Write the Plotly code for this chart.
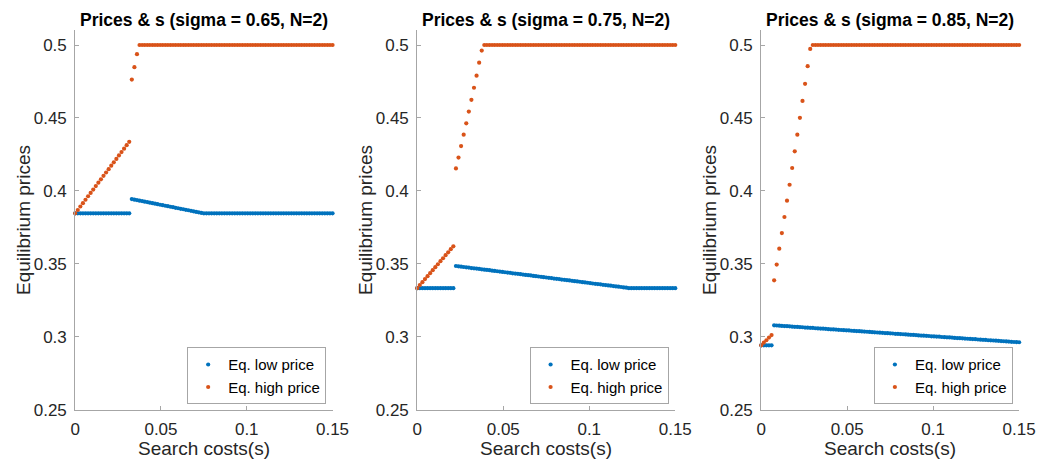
import numpy as np
import plotly.graph_objects as go

# Search-cost grid (101 points, 0 .. 0.15)
s_grid = [round(v, 4) for v in np.linspace(0.0, 0.15, 101)]

titles = ["Prices & s (sigma = 0.65, N=2)",
          "Prices & s (sigma = 0.75, N=2)",
          "Prices & s (sigma = 0.85, N=2)"]
x_ticks = [0, 0.05, 0.1, 0.15]
x_ticklabels = ["0", "0.05", "0.1", "0.15"]
y_ticks = [0.25, 0.3, 0.35, 0.4, 0.45, 0.5]
y_ticklabels = ["0.25", "0.3", "0.35", "0.4", "0.45", "0.5"]

# ---------------- sigma = 0.65 ----------------
low_065 = [0.3846] * 22 + [
    0.3944, 0.3940, 0.3937, 0.3933, 0.3930, 0.3926, 0.3923, 0.3919, 0.3916, 0.3912,
    0.3909, 0.3905, 0.3902, 0.3898, 0.3895, 0.3891, 0.3888, 0.3884, 0.3881, 0.3877,
    0.3874, 0.3870, 0.3867, 0.3863, 0.3860, 0.3856, 0.3853, 0.3849, 0.3846,
] + [0.3846] * 50
high_065 = [
    0.3846, 0.3869, 0.3893, 0.3916, 0.3939, 0.3963, 0.3986, 0.4009, 0.4033, 0.4056,
    0.4079, 0.4103, 0.4126, 0.4149, 0.4173, 0.4196, 0.4219, 0.4243, 0.4266, 0.4289,
    0.4313, 0.4336,
    0.4763, 0.4848, 0.4937,
] + [0.5] * 76

# ---------------- sigma = 0.75 ----------------
low_075 = [0.3333] * 15 + [
    0.3485, 0.3483, 0.3480, 0.3478, 0.3476, 0.3474, 0.3471, 0.3469, 0.3467, 0.3465,
    0.3462, 0.3460, 0.3458, 0.3456, 0.3453, 0.3451, 0.3449, 0.3447, 0.3444, 0.3442,
    0.3440, 0.3438, 0.3435, 0.3433, 0.3431, 0.3429, 0.3426, 0.3424, 0.3422, 0.3420,
    0.3417, 0.3415, 0.3413, 0.3411, 0.3408, 0.3406, 0.3404, 0.3402, 0.3399, 0.3397,
    0.3395, 0.3392, 0.3390, 0.3388, 0.3386, 0.3383, 0.3381, 0.3379, 0.3377, 0.3374,
    0.3372, 0.3370, 0.3368, 0.3365, 0.3363, 0.3361, 0.3359, 0.3356, 0.3354, 0.3352,
    0.3350, 0.3347, 0.3345, 0.3343, 0.3341, 0.3338, 0.3336, 0.3333,
] + [0.3333] * 18
high_075 = [
    0.3333, 0.3354, 0.3374, 0.3395, 0.3415, 0.3436, 0.3456, 0.3477, 0.3497, 0.3518,
    0.3538, 0.3559, 0.3579, 0.3600, 0.3620,
    0.4154, 0.4228, 0.4307, 0.4385, 0.4463, 0.4544, 0.4624, 0.4707, 0.4790, 0.4879,
    0.4962,
] + [0.5] * 75

# ---------------- sigma = 0.85 ----------------
low_085 = [0.2941] * 5 + [
    0.3078, 0.3077, 0.3076, 0.3074, 0.3073, 0.3072, 0.3071, 0.3069, 0.3068, 0.3067,
    0.3066, 0.3065, 0.3063, 0.3062, 0.3061, 0.3060, 0.3058, 0.3057, 0.3056, 0.3055,
    0.3054, 0.3052, 0.3051, 0.3050, 0.3049, 0.3047, 0.3046, 0.3045, 0.3044, 0.3043,
    0.3041, 0.3040, 0.3039, 0.3038, 0.3036, 0.3035, 0.3034, 0.3033, 0.3031, 0.3030,
    0.3029, 0.3028, 0.3027, 0.3025, 0.3024, 0.3023, 0.3022, 0.3020, 0.3019, 0.3018,
    0.3017, 0.3016, 0.3014, 0.3013, 0.3012, 0.3011, 0.3009, 0.3008, 0.3007, 0.3006,
    0.3005, 0.3003, 0.3002, 0.3001, 0.3000, 0.2998, 0.2997, 0.2996, 0.2995, 0.2994,
    0.2992, 0.2991, 0.2990, 0.2989, 0.2987, 0.2986, 0.2985, 0.2984, 0.2983, 0.2981,
    0.2980, 0.2979, 0.2978, 0.2976, 0.2975, 0.2974, 0.2973, 0.2972, 0.2970, 0.2969,
    0.2968, 0.2967, 0.2965, 0.2964, 0.2963, 0.2962,
]
high_085 = [
    0.2941, 0.2959, 0.2976, 0.2994, 0.3011,
    0.3387, 0.3495, 0.3604, 0.3711, 0.3821, 0.3933, 0.4042, 0.4157, 0.4271, 0.4385,
    0.4501, 0.4617, 0.4734, 0.4855, 0.4973,
] + [0.5] * 81

low_series = [low_065, low_075, low_085]
high_series = [high_065, high_075, high_085]

BLUE = "#0072BD"
ORANGE = "#D95319"
FONT = "Liberation Sans, Arial, Helvetica, sans-serif"
W, H = 1057, 473

x_px = [(71.7, 334.5), (421.0, 684.5), (772.3, 1035.7)]
y_top_px, y_bot_px = 31.1, 418.5
y_dom = [1 - y_bot_px / H, 1 - y_top_px / H]
legend_right_px = [328.0, 677.7, 1029.3]
legend_bottom_px = 413.0

fig = go.Figure()
layout = dict(
    width=W, height=H,
    margin=dict(l=0, r=0, t=0, b=0),
    paper_bgcolor="white", plot_bgcolor="white",
    font=dict(family=FONT, color="#262626"),
    showlegend=True,
    annotations=[],
)

for i in range(3):
    ax = "" if i == 0 else str(i + 1)
    leg = "legend" if i == 0 else f"legend{i + 1}"
    fig.add_trace(go.Scatter(
        x=s_grid, y=low_series[i], mode="markers", name="Eq. low price",
        marker=dict(color=BLUE, size=4.2), cliponaxis=False,
        xaxis=f"x{ax}", yaxis=f"y{ax}", legend=leg))
    fig.add_trace(go.Scatter(
        x=s_grid, y=high_series[i], mode="markers", name="Eq. high price",
        marker=dict(color=ORANGE, size=4.2), cliponaxis=False,
        xaxis=f"x{ax}", yaxis=f"y{ax}", legend=leg))

    x0, x1 = x_px[i]
    dom = [x0 / W, x1 / W]
    layout[f"xaxis{ax}"] = dict(
        domain=dom, range=[0, 0.15], anchor=f"y{ax}",
        tickvals=x_ticks, ticktext=x_ticklabels,
        showline=True, linecolor="#a6a6a6", linewidth=1, mirror=False,
        ticks="inside", ticklen=4, tickcolor="#a6a6a6",
        showgrid=False, zeroline=False, ticklabelstandoff=4,
        tickfont=dict(size=17, color="#262626", family=FONT),
    )
    layout[f"yaxis{ax}"] = dict(
        domain=y_dom, range=[0.25, 0.51], anchor=f"x{ax}",
        tickvals=y_ticks, ticktext=y_ticklabels,
        showline=True, linecolor="#a6a6a6", linewidth=1, mirror=False,
        ticks="inside", ticklen=4, tickcolor="#a6a6a6",
        showgrid=False, zeroline=False, ticklabelstandoff=4,
        tickfont=dict(size=17, color="#262626", family=FONT),
    )
    layout[leg] = dict(
        x=legend_right_px[i] / W, xanchor="right",
        y=1 - legend_bottom_px / H, yanchor="bottom",
        bgcolor="white", bordercolor="#a6a6a6", borderwidth=1,
        font=dict(size=15, color="#000000", family=FONT),
        itemwidth=30, tracegroupgap=0,
    )
    cx = (x0 + x1) / 2
    layout["annotations"] += [
        dict(text=f"<b>{titles[i]}</b>", x=cx / W, y=1 - 20 / H,
             xref="paper", yref="paper", xanchor="center", yanchor="middle",
             showarrow=False, font=dict(size=17.5, color="#000000", family=FONT)),
        dict(text="Search costs(s)", x=cx / W, y=1 - 458 / H,
             xref="paper", yref="paper", xanchor="center", yanchor="middle",
             showarrow=False, font=dict(size=19, color="#262626", family=FONT)),
        dict(text="Equilibrium prices", x=(x0 - 53.4) / W,
             y=1 - ((y_top_px + y_bot_px) / 2) / H,
             xref="paper", yref="paper", xanchor="center", yanchor="middle",
             textangle=-90, showarrow=False,
             font=dict(size=19, color="#262626", family=FONT)),
    ]

fig.update_layout(**layout)
# remove the default 8px page margin so the figure fills the window exactly
js = "document.body.style.margin='0';document.body.style.overflow='hidden';"
fig.write_html("out.html", post_script=js)
